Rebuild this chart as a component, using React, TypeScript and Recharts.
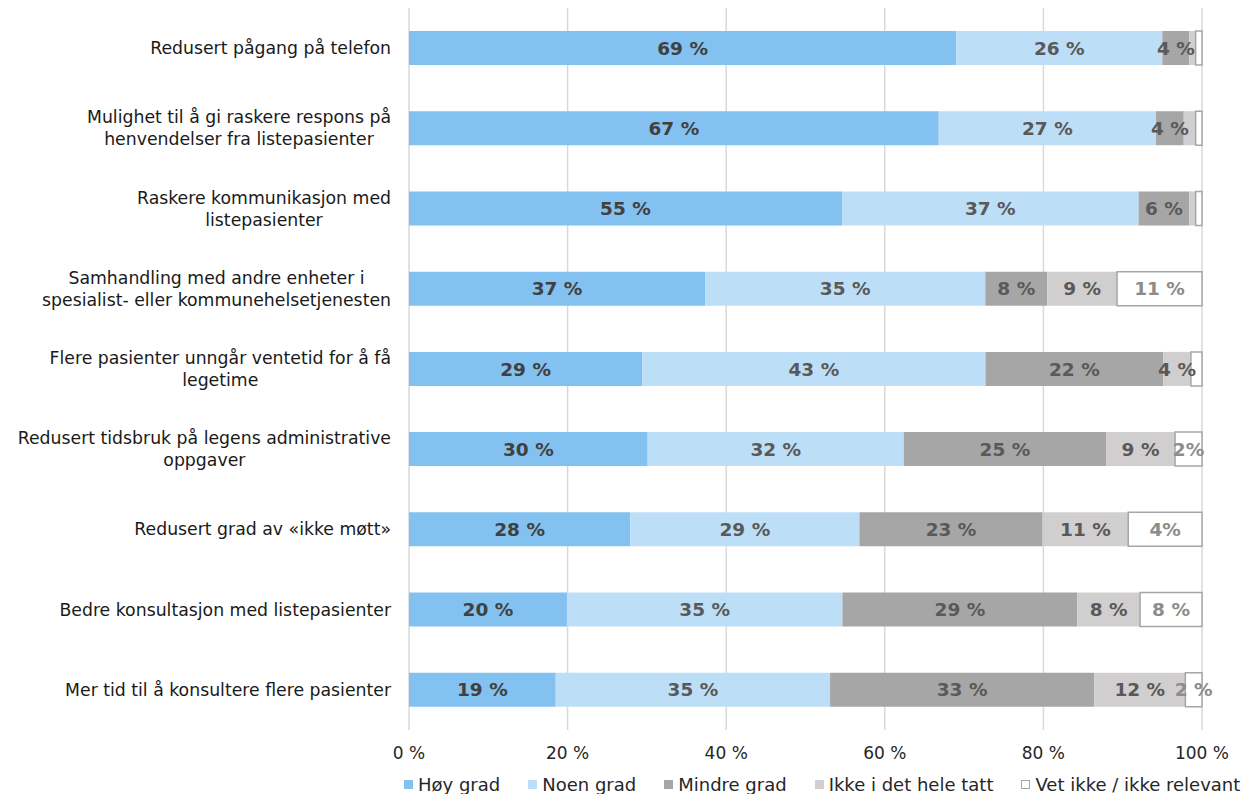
import React from "react";
import {
  Bar,
  BarChart,
  CartesianGrid,
  LabelList,
  Legend,
  XAxis,
  YAxis,
} from "recharts";

const FONT = "'DejaVu Sans', Verdana, sans-serif";

const categories = [
  "Redusert pågang på telefon",
  "Mulighet til å gi raskere respons på\nhenvendelser fra listepasienter",
  "Raskere kommunikasjon med\nlistepasienter",
  "Samhandling med andre enheter i\nspesialist- eller kommunehelsetjenesten",
  "Flere pasienter unngår ventetid for å få\nlegetime",
  "Redusert tidsbruk på legens administrative\noppgaver",
  "Redusert grad av «ikke møtt»",
  "Bedre konsultasjon med listepasienter",
  "Mer tid til å konsultere flere pasienter",
];

// share of answers per category (%)
const hoy = [69.0, 66.8, 54.6, 37.3, 29.4, 30.1, 27.9, 19.9, 18.5];
const noen = [26.0, 27.4, 37.4, 35.3, 43.3, 32.3, 28.9, 34.7, 34.6];
const mindre = [3.4, 3.5, 6.4, 7.8, 22.4, 25.5, 23.1, 29.6, 33.3];
const ikke = [0.8, 1.5, 0.8, 8.8, 3.5, 8.7, 10.8, 7.9, 11.5];
const vet = [0.8, 0.8, 0.8, 10.7, 1.4, 3.4, 9.3, 7.8, 2.1];

// the printed labels (as they appear on the chart)
const hoyLabels = ["69 %", "67 %", "55 %", "37 %", "29 %", "30 %", "28 %", "20 %", "19 %"];
const noenLabels = ["26 %", "27 %", "37 %", "35 %", "43 %", "32 %", "29 %", "35 %", "35 %"];
const mindreLabels = ["4 %", "4 %", "6 %", "8 %", "22 %", "25 %", "23 %", "29 %", "33 %"];
const ikkeLabels = ["", "", "", "9 %", "4 %", "9 %", "11 %", "8 %", "12 %"];
const vetLabels = ["", "", "", "11 %", "", "2%", "4%", "8 %", "2 %"];

const xTicks = [0, 0.2, 0.4, 0.6, 0.8, 1];

const SERIES = [
  { key: "hoy", name: "Høy grad", values: hoy, labels: hoyLabels, fill: "#83c1f0", text: "#404040" },
  { key: "noen", name: "Noen grad", values: noen, labels: noenLabels, fill: "#bddef7", text: "#595959" },
  { key: "mindre", name: "Mindre grad", values: mindre, labels: mindreLabels, fill: "#a6a6a6", text: "#595959" },
  { key: "ikke", name: "Ikke i det hele tatt", values: ikke, labels: ikkeLabels, fill: "#d0cece", text: "#595959" },
  { key: "vet", name: "Vet ikke / ikke relevant", values: vet, labels: vetLabels, fill: "#ffffff", text: "#8c8c8c" },
];

const data = categories.map((name, i) => {
  const row: Record<string, string | number> = { name };
  SERIES.forEach((s) => {
    row[s.key] = s.values[i];
    row[s.key + "Label"] = s.labels[i];
  });
  return row;
});

const CAT_SIZE = 17.3;

let ctx: CanvasRenderingContext2D | null = null;
function textWidth(t: string) {
  if (!ctx) ctx = document.createElement("canvas").getContext("2d");
  if (!ctx) return t.length * 9.5;
  ctx.font = `${CAT_SIZE}px ${FONT}`;
  return ctx.measureText(t).width;
}

function CategoryTick(props: any) {
  const { x, y, payload } = props;
  const lines = String(payload.value).split("\n");
  const right = x - 18;
  const w = Math.max(...lines.map(textWidth));
  const cx = right - w / 2;
  const lh = 22;
  const y0 = y - ((lines.length - 1) * lh) / 2;
  return (
    <text textAnchor="middle" fontSize={CAT_SIZE} fontFamily={FONT} fill="#1a1a1a">
      {lines.map((l, i) => (
        <tspan key={i} x={cx} y={y0 + i * lh} dy="0.35em">
          {l}
        </tspan>
      ))}
    </text>
  );
}

const makeLabel = (color: string) => (props: any) => {
  const { x, y, width, height, value } = props;
  if (!value) return null;
  return (
    <text
      x={Number(x) + Number(width) / 2}
      y={Number(y) + Number(height) / 2}
      dy="0.36em"
      textAnchor="middle"
      fontFamily={FONT}
      fontSize={18.5}
      fontWeight="bold"
      fill={color}
    >
      {value}
    </text>
  );
};

function LegendContent() {
  return (
    <div
      style={{
        display: "flex",
        paddingLeft: 404,
        paddingTop: 11,
        gap: 28,
        height: 30,
        boxSizing: "border-box",
        fontFamily: FONT,
        fontSize: 18,
        lineHeight: "21px",
        color: "#262626",
        whiteSpace: "nowrap",
        overflow: "hidden",
      }}
    >
      {SERIES.map((s) => (
        <div key={s.key} style={{ display: "flex", alignItems: "center" }}>
          <span
            style={{
              display: "inline-block",
              width: 9,
              height: 9,
              boxSizing: "border-box",
              background: s.fill,
              border: s.key === "vet" ? "1px solid #a6a6a6" : "none",
              marginRight: 5,
            }}
          />
          {s.name}
        </div>
      ))}
    </div>
  );
}

export default function App() {
  return (
    <div style={{ position: "fixed", left: 0, top: 0, width: 1243, height: 794, background: "#fff", overflow: "hidden" }}>
      <BarChart
        width={1243}
        height={794}
        data={data}
        layout="vertical"
        stackOffset="expand"
        margin={{ top: 8, right: 41, left: 0, bottom: 0 }}
      >
        <CartesianGrid horizontal={false} stroke="#d9d9d9" strokeWidth={1.5} />
        <XAxis
          type="number"
          domain={[0, 1]}
          ticks={xTicks}
          tickFormatter={(v: number) => `${Math.round(v * 100)} %`}
          axisLine={false}
          tickLine={false}
          tickSize={0}
          tickMargin={17}
          height={34}
          tick={{ fontSize: 17, fill: "#262626", fontFamily: FONT }}
        />
        <YAxis
          type="category"
          dataKey="name"
          width={409}
          axisLine={false}
          tickLine={false}
          tickSize={0}
          tickMargin={0}
          interval={0}
          tick={<CategoryTick />}
        />
        <Legend
          verticalAlign="bottom"
          content={() => <LegendContent />}
          wrapperStyle={{ left: 0, bottom: 0, width: 1243, height: 30 }}
        />
        {SERIES.map((s) => (
          <Bar
            key={s.key}
            dataKey={s.key}
            name={s.name}
            stackId="a"
            fill={s.fill}
            stroke={s.key === "vet" ? "#a6a6a6" : "none"}
            strokeWidth={s.key === "vet" ? 1.5 : 0}
            barSize={34}
            isAnimationActive={false}
          >
            <LabelList dataKey={s.key + "Label"} content={makeLabel(s.text)} />
          </Bar>
        ))}
      </BarChart>
    </div>
  );
}
